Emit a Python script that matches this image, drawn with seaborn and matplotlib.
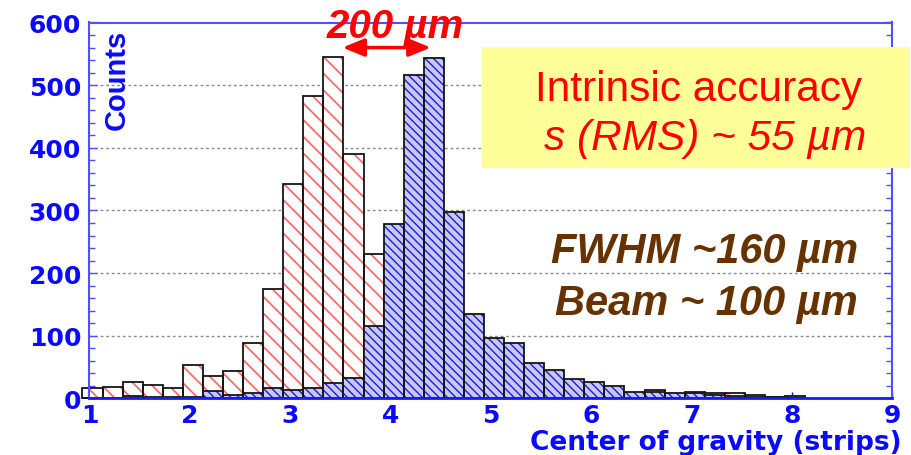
import numpy as np
import pandas as pd
import matplotlib
matplotlib.use("Agg")
import matplotlib.pyplot as plt
from matplotlib.patches import Rectangle
from matplotlib.ticker import MultipleLocator
import seaborn as sns

# Histogram binning (strips)
bin_start = 0.93
bin_width = 0.2

# Counts per bin: two beam positions
red_counts = [16, 18, 26, 22, 17, 54, 36, 43, 88, 174, 342, 482, 545, 390, 231,
              178, 120, 70, 45, 30, 24, 20, 17, 15, 12, 11, 9, 8, 13, 5,
              10, 9, 9, 6, 2, 3]
blue_counts = [0, 0, 4, 2, 2, 2, 12, 5, 8, 16, 13, 17, 24, 33, 116,
               279, 516, 543, 297, 135, 96, 88, 56, 45, 31, 26, 19, 10, 10, 8,
               9, 5, 4, 3, 3, 4]

x_ticks = [1, 2, 3, 4, 5, 6, 7, 8, 9]
y_ticks = [0, 100, 200, 300, 400, 500, 600]

BLUE = "#0a0aff"
SPINE = "#5050ff"
RED = "#ff0000"
BROWN = "#663300"

sns.set_theme(style="white")
plt.rcParams["font.family"] = ["DejaVu Sans"]
plt.rcParams["hatch.linewidth"] = 1.2

W, H = 912, 456
fig = plt.figure(figsize=(W / 100, H / 100), dpi=100)
ax_l, ax_r, ax_t, ax_b = 89.5, 892.5, 23.5, 399.4
ax = fig.add_axes([ax_l / W, 1 - ax_b / H, (ax_r - ax_l) / W, (ax_b - ax_t) / H])

n = len(red_counts)
edges = [bin_start + bin_width * i for i in range(n + 1)]
centers = [e + bin_width / 2 for e in edges[:-1]]
df = pd.DataFrame({"center": centers, "red": red_counts, "blue": blue_counts})


def hatched_layer(weights, face, hatch, hatch_color, hatch_lw):
    before = len(ax.patches)
    sns.histplot(data=df, x="center", weights=weights, bins=edges, ax=ax,
                 color=face, alpha=1, linewidth=0)
    for p in ax.patches[before:]:
        p.set_facecolor(face)
        p.set_alpha(1)
        p.set_edgecolor(hatch_color)
        p.set_linewidth(0)
        p.set_hatch(hatch)
        p.set_clip_on(False)
        if hasattr(p, "set_hatch_linewidth"):
            p.set_hatch_linewidth(hatch_lw)


def outline_layer(weights):
    before = len(ax.patches)
    sns.histplot(data=df, x="center", weights=weights, bins=edges, ax=ax,
                 fill=False, color="#151515", linewidth=1.3)
    for p in ax.patches[before:]:
        p.set_clip_on(False)


hatched_layer("red", "white", "\\\\", "#ff6a6a", 1.3)
outline_layer("red")
hatched_layer("blue", "#c8c8f8", "\\\\\\\\", "#1c1cd4", 1.0)
outline_layer("blue")

ax.set_xlim(1, 9)
ax.set_ylim(0, 600)
ax.set_xticks(x_ticks)
ax.set_yticks(y_ticks)
ax.yaxis.set_minor_locator(MultipleLocator(20))
ax.set_xlabel("")
ax.set_ylabel("")

ax.set_axisbelow(True)
ax.grid(axis="y", linestyle=(0, (2, 2)), color="#8a8a8a", linewidth=1.0)
ax.grid(axis="x", visible=False)

for side, sp in ax.spines.items():
    sp.set_visible(True)
    sp.set_color(SPINE)
    sp.set_linewidth(1.5)
ax.spines["bottom"].set_color("#1a1aff")
ax.spines["bottom"].set_linewidth(2)

ax.tick_params(axis="y", which="major", direction="in", left=True, right=True,
               length=6, width=1, color=SPINE, labelsize=18, labelcolor=BLUE, pad=6)
ax.tick_params(axis="y", which="minor", direction="in", left=True, right=True,
               length=4, width=1, color=SPINE)
ax.tick_params(axis="x", which="major", direction="in", bottom=True, top=False,
               length=4, width=1, color=BLUE, labelsize=18, labelcolor=BLUE, pad=3)
for lbl in ax.get_xticklabels() + ax.get_yticklabels():
    lbl.set_fontweight("bold")

# axis titles
fig.text(117 / W, 1 - 80 / H, "Counts", rotation=90, ha="center", va="center",
         color=BLUE, fontsize=21, fontweight="bold",
         family=["Liberation Sans Narrow", "Liberation Sans"])
fig.text(902 / W, 1 - 450 / H, "Center of gravity (strips)", ha="right",
         va="baseline", color=BLUE, fontsize=19, fontweight="bold")

# yellow note box
fig.add_artist(Rectangle((481.7 / W, 1 - 169 / H), (910 - 481.7) / W, (169 - 48) / H,
                         transform=fig.transFigure, facecolor="#ffff99",
                         edgecolor="none", zorder=5))
fig.text(699 / W, 1 - 101 / H, "Intrinsic accuracy", ha="center", va="baseline",
         color=RED, fontsize=30.5, family=["Liberation Sans"], zorder=6)
fig.text(705 / W, 1 - 150 / H, "s (RMS) ~ 55 µm", ha="center", va="baseline",
         color=RED, fontsize=30.5, style="italic", family=["Liberation Sans"], zorder=6)

fig.text(858 / W, 1 - 263 / H, "FWHM ~160 µm", ha="right", va="baseline",
         color=BROWN, fontsize=30, fontweight="bold", style="italic",
         family=["Liberation Sans"], zorder=6)
fig.text(858 / W, 1 - 315 / H, "Beam ~ 100 µm", ha="right", va="baseline",
         color=BROWN, fontsize=30, fontweight="bold", style="italic",
         family=["Liberation Sans"], zorder=6)

# peak separation
fig.text(395 / W, 1 - 38 / H, "200 µm", ha="center", va="baseline",
         color=RED, fontsize=29, fontweight="bold", style="italic",
         family=["Liberation Sans"], zorder=6)
ax.annotate("", xy=(4.40, 560), xytext=(3.52, 560),
            arrowprops=dict(arrowstyle="<|-|>,head_length=1.1,head_width=0.45",
                            color=RED, lw=2.5, shrinkA=0, shrinkB=0),
            annotation_clip=False, zorder=6)

fig.savefig("out.png", dpi=100, facecolor="white")
